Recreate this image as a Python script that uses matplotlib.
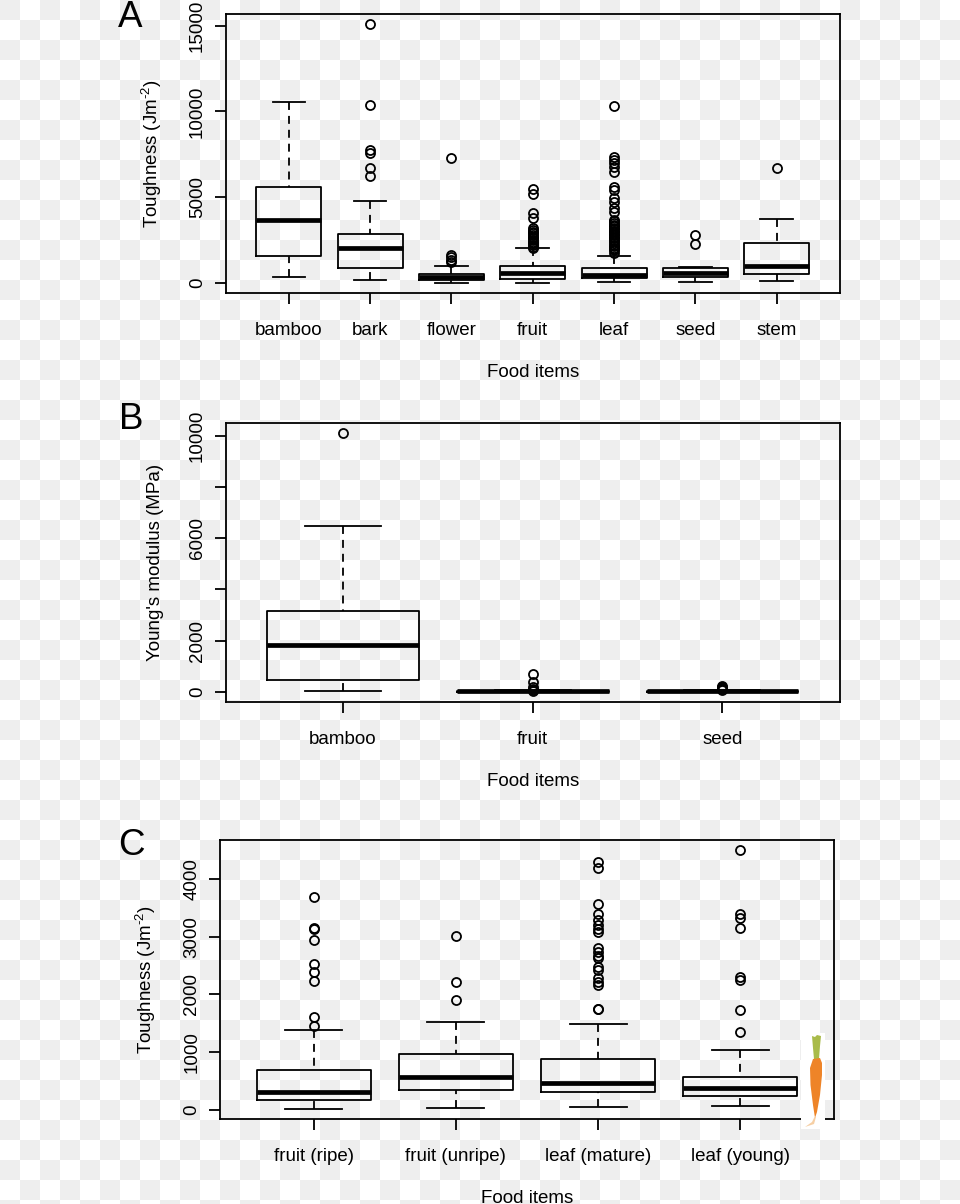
import numpy as np
import matplotlib
matplotlib.use("Agg")
import matplotlib.pyplot as plt
from matplotlib.patches import Polygon, Rectangle

plt.rcParams['font.family'] = ['Liberation Sans', 'DejaVu Sans']
plt.rcParams['mathtext.fontset'] = 'custom'
plt.rcParams['mathtext.rm'] = 'Liberation Sans'
plt.rcParams['mathtext.default'] = 'regular'

# Panel A: toughness by food item
a_items = ["bamboo", "bark", "flower", "fruit", "leaf", "seed", "stem"]
a_whislo = [350, 155, 0, 20, 60, 60, 115]
a_q1 = [1555, 895, 175, 250, 310, 350, 525]
a_med = [3650, 2040, 350, 560, 445, 600, 1010]
a_q3 = [5600, 2855, 545, 1010, 895, 895, 2310]
a_whishi = [10570, 4780, 970, 2040, 1575, 950, 3730]
a_fliers = [
    [],
    [15080, 10375, 7750, 7600, 6720, 6220],
    [7290, 1630, 1500, 1340, 1245],
    [5460, 5190, 4060, 3770, 3190, 3090, 2990, 2900, 2800, 2700, 2600, 2500,
     2410, 2310, 2215, 2120, 2050],
    [10340, 7363, 7170, 6995, 6780, 6490, 5615, 5420, 4940, 4740, 4355, 4155,
     3680, 3590, 3500, 3410, 3320, 3230, 3140, 3050, 2960, 2870, 2780, 2690,
     2600, 2510, 2420, 2330, 2240, 2150, 2060, 1970, 1920, 1750],
    [2820, 2270],
    [6680],
]
a_ticks = [0, 5000, 10000, 15000]
a_ticklabels = ["0", "5000", "10000", "15000"]

# Panel B: Young's modulus
b_items = ["bamboo", "fruit", "seed"]
b_whislo = [50, 0, 0]
b_q1 = [455, 10, 10]
b_med = [1835, 25, 25]
b_q3 = [3160, 40, 40]
b_whishi = [6475, 60, 60]
b_fliers = [
    [10090],
    [700, 400, 210, 120, 80, 40],
    [220, 190, 150, 110, 80],
]
b_ticks = [0, 2000, 4000, 6000, 8000, 10000]
b_ticklabels = ["0", "2000", "", "6000", "", "10000"]

# Panel C: toughness of fruit and leaf stages
c_items = ["fruit (ripe)", "fruit (unripe)", "leaf (mature)", "leaf (young)"]
c_whislo = [20, 25, 50, 60]
c_q1 = [160, 335, 300, 230]
c_med = [310, 565, 455, 380]
c_q3 = [690, 960, 880, 565]
c_whishi = [1390, 1515, 1480, 1035]
c_fliers = [
    [3690, 3155, 3125, 2940, 2535, 2385, 2230, 1600, 1455],
    [3010, 2210, 1900],
    [4300, 4185, 3570, 3390, 3290, 3200, 3130, 3085, 2800, 2740, 2665, 2625,
     2480, 2420, 2280, 2220, 2160, 1750, 1740],
    [4500, 3390, 3320, 3150, 2305, 2250, 1735, 1345],
]
c_ticks = [0, 1000, 2000, 3000, 4000]
c_ticklabels = ["0", "1000", "2000", "3000", "4000"]

W, H = 960, 1204
LW = 1.3
fig = plt.figure(figsize=(W / 100, H / 100), dpi=100, facecolor='white')

# checkerboard that sits behind the whole figure
bg = fig.add_axes([0, 0, 1, 1], zorder=0)
rows, cols = np.indices((H // 20 + 1, W // 20 + 1))
bg.imshow((rows + cols) % 2 == 0, cmap=matplotlib.colors.ListedColormap(['white', '#eeeeee']),
          extent=[0, (W // 20 + 1) * 20, (H // 20 + 1) * 20, 0], interpolation='nearest', aspect='auto')
bg.set_xlim(0, W)
bg.set_ylim(H, 0)
bg.axis('off')


def panel(box, xlim, ylim, items, whislo, q1, med, q3, whishi, fliers,
          ticks, ticklabels, ylabel):
    left, top, right, bottom = box
    ax = fig.add_axes([left / W, 1 - bottom / H, (right - left) / W, (bottom - top) / H], zorder=2)
    ax.patch.set_alpha(0)
    stats = []
    for i in range(len(items)):
        stats.append({"label": items[i], "whislo": whislo[i], "q1": q1[i], "med": med[i],
                      "q3": q3[i], "whishi": whishi[i], "fliers": fliers[i]})
    r = ax.bxp(stats, widths=0.8, capwidths=0.4, manage_ticks=False,
               boxprops=dict(color='black', linewidth=LW),
               medianprops=dict(color='black', linewidth=3.4, solid_capstyle='butt'),
               whiskerprops=dict(color='black', linewidth=LW, linestyle=(0, (4.4, 3.3))),
               capprops=dict(color='black', linewidth=LW),
               flierprops=dict(marker='o', markersize=6.5, markerfacecolor='none',
                               markeredgecolor='black', markeredgewidth=LW))
    # R starts the dashes from the cap, not from the box
    for line in r['whiskers']:
        xd, yd = line.get_data()
        line.set_data(xd[::-1], yd[::-1])
    ax.set_xlim(xlim)
    ax.set_ylim(ylim)
    ax.set_xticks(range(1, len(items) + 1))
    ax.set_xticklabels(items)
    ax.set_yticks(ticks)
    ax.set_yticklabels(ticklabels, rotation=90, va='center')
    ax.tick_params(axis='both', length=8, width=LW, labelsize=13.5, color='black')
    ax.tick_params(axis='x', pad=13)
    ax.tick_params(axis='y', pad=6)
    for s in ax.spines.values():
        s.set_linewidth(LW)
    ax.set_xlabel("Food items", fontsize=13.5, labelpad=18)
    ax.set_ylabel(ylabel, fontsize=13.5, labelpad=18)
    return ax


tough = r"Toughness (Jm$^{\text{-2}}$)"
panel((225.5, 14, 840, 293), (0.22, 7.78), (-583, 15682), a_items, a_whislo, a_q1, a_med,
      a_q3, a_whishi, a_fliers, a_ticks, a_ticklabels, tough)
panel((225.5, 423, 840, 702), (0.38, 3.62), (-390, 10495), b_items, b_whislo, b_q1, b_med,
      b_q3, b_whishi, b_fliers, b_ticks, b_ticklabels, "Young's modulus (MPa)")
panel((219.7, 840, 834, 1118.7), (0.339, 4.659), (-156, 4677), c_items, c_whislo, c_q1, c_med,
      c_q3, c_whishi, c_fliers, c_ticks, c_ticklabels, tough)

# carrot sticker on a white patch, bottom right of panel C
over = fig.add_axes([0, 0, 1, 1], zorder=3)
over.set_xlim(0, W)
over.set_ylim(H, 0)
over.axis('off')
over.add_patch(Rectangle((801, 1033), 24, 96, facecolor='white', edgecolor='none'))
over.add_patch(Polygon([(812, 1036), (815, 1037), (817, 1035), (821, 1036), (820, 1046),
                        (819, 1059), (814, 1059), (813, 1048)], facecolor='#a9bb4a', edgecolor='none'))
over.add_patch(Polygon([(813, 1059), (820, 1058), (822, 1063), (822, 1075), (820, 1095),
                        (817, 1112), (815, 1118), (813, 1105), (810.5, 1085), (810, 1068)],
                       facecolor='#ee8428', edgecolor='none'))
over.add_patch(Polygon([(814.5, 1117), (816, 1117), (814, 1124), (805, 1127), (812, 1122)],
                       facecolor='#f6cfa4', edgecolor='none'))

# panel letters
over.text(118, 27, "A", fontsize=26.5, ha='left', va='baseline')
over.text(119, 429, "B", fontsize=26.5, ha='left', va='baseline')
over.text(118, 855, "C", fontsize=26.5, ha='left', va='baseline')

fig.savefig("out.png", dpi=100)
